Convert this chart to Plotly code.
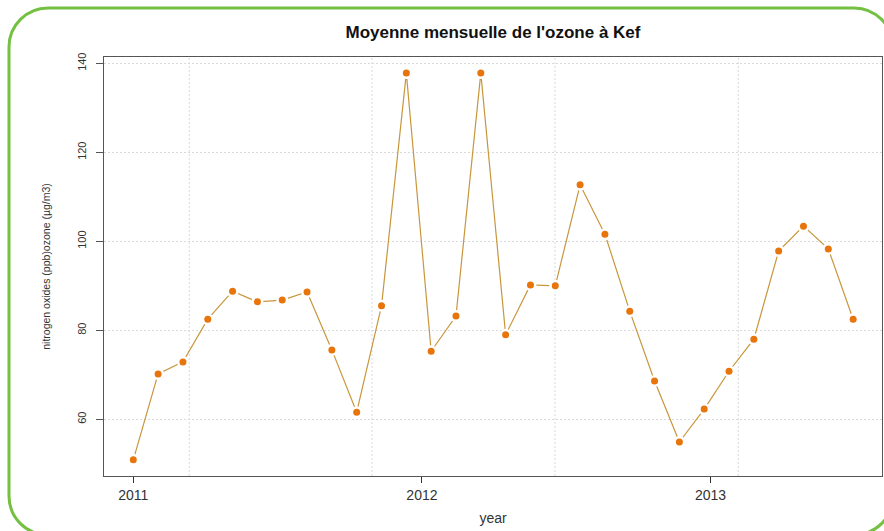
import plotly.graph_objects as go

# ---- data ----
x_year = [2011.000, 2011.086, 2011.172, 2011.258, 2011.344, 2011.430, 2011.516, 2011.602,
          2011.688, 2011.774, 2011.860, 2011.946, 2012.032, 2012.118, 2012.204, 2012.290,
          2012.376, 2012.462, 2012.548, 2012.634, 2012.720, 2012.806, 2012.892, 2012.978,
          2013.064, 2013.150, 2013.236, 2013.322, 2013.408, 2013.494]
ozone = [50.9, 70.2, 72.9, 82.5, 88.8, 86.4, 86.8, 88.6, 75.6, 61.6, 85.5, 137.8, 75.3, 83.2,
         137.8, 79.0, 90.2, 90.0, 112.7, 101.6, 84.3, 68.6, 54.9, 62.3, 70.8, 78.0, 97.8,
         103.4, 98.3, 82.5]
x_ticks = [2011, 2012, 2013]
x_ticklabels = ["2011", "2012", "2013"]
y_ticks = [60, 80, 100, 120, 140]
v_grid = [2011.194, 2011.827, 2012.461, 2013.096]

title = "Moyenne mensuelle de l'ozone à Kef"
x_label = "year"
y_label = "nitrogen oxides (ppb)ozone (µg/m3)"

# ---- layout geometry (pixels) ----
W, H = 884, 531
PL, PR, PT, PB = 104, 882, 57, 476


def px(xp):
    return (xp - PL) / (PR - PL)


def py(yp):
    return (PB - yp) / (PB - PT)


def rounded_rect(L, T, R, B, r):
    k = 0.5523 * r
    pts = [
        f"M {px(L + r)},{py(T)}",
        f"L {px(R - r)},{py(T)}",
        f"C {px(R - r + k)},{py(T)} {px(R)},{py(T + r - k)} {px(R)},{py(T + r)}",
        f"L {px(R)},{py(B - r)}",
        f"C {px(R)},{py(B - r + k)} {px(R - r + k)},{py(B)} {px(R - r)},{py(B)}",
        f"L {px(L + r)},{py(B)}",
        f"C {px(L + r - k)},{py(B)} {px(L)},{py(B - r + k)} {px(L)},{py(B - r)}",
        f"L {px(L)},{py(T + r)}",
        f"C {px(L)},{py(T + r - k)} {px(L + r - k)},{py(T)} {px(L + r)},{py(T)}",
        "Z",
    ]
    return " ".join(pts)


GRID = "#d9d9d9"
fig = go.Figure()
fig.add_trace(go.Scatter(x=x_year, y=ozone, mode="lines",
                         line=dict(color="#c8963c", width=1.2), hoverinfo="skip"))
fig.add_trace(go.Scatter(x=x_year, y=ozone, mode="markers",
                         marker=dict(color="white", size=12), hoverinfo="skip"))
fig.add_trace(go.Scatter(x=x_year, y=ozone, mode="markers",
                         marker=dict(color="#e8740c", size=7)))

shapes = []
for gx in v_grid:
    shapes.append(dict(type="line", xref="x", yref="paper", x0=gx, x1=gx, y0=0, y1=1,
                       line=dict(color=GRID, width=1, dash="2px,2px"), layer="below"))
shapes.append(dict(type="path", xref="paper", yref="paper",
                   path=rounded_rect(9, 8, 893, 535, 39),
                   line=dict(color="#74c043", width=3), layer="above"))

fig.update_layout(
    width=W, height=H,
    margin=dict(l=PL, r=W - PR, t=PT, b=H - PB),
    paper_bgcolor="white", plot_bgcolor="white",
    showlegend=False,
    font=dict(family="Liberation Sans, Arial, sans-serif", color="#222"),
    title=dict(text=f"<b>{title}</b>", x=0.5, xref="paper", y=1 - 32 / H, yref="container",
               xanchor="center", yanchor="middle", font=dict(size=17, color="#111")),
    shapes=shapes,
)
fig.update_xaxes(range=[2010.8985, 2013.594], tickvals=x_ticks, ticktext=x_ticklabels,
                 ticks="outside", ticklen=6, tickcolor="#333", showgrid=False,
                 showline=True, mirror=True, linecolor="#555", linewidth=1, zeroline=False,
                 tickfont=dict(size=14, color="#333"),
                 title=dict(text=x_label, font=dict(size=14, color="#333"), standoff=11))
fig.update_yaxes(range=[47.26, 141.42], tickvals=y_ticks, ticks="outside", ticklen=7,
                 tickcolor="#555", showgrid=True, gridcolor=GRID, griddash="2px,2px",
                 gridwidth=1, showline=True, mirror=True, linecolor="#555", linewidth=1,
                 zeroline=False, tickangle=-90, tickfont=dict(size=11, color="#333"),
                 ticklabelstandoff=6,
                 title=dict(text=y_label, font=dict(size=10.5, color="#333"), standoff=22))

fig.write_html("out.html", config={"displayModeBar": False},
               post_script="document.body.style.margin='0';document.body.style.overflow='hidden';")
